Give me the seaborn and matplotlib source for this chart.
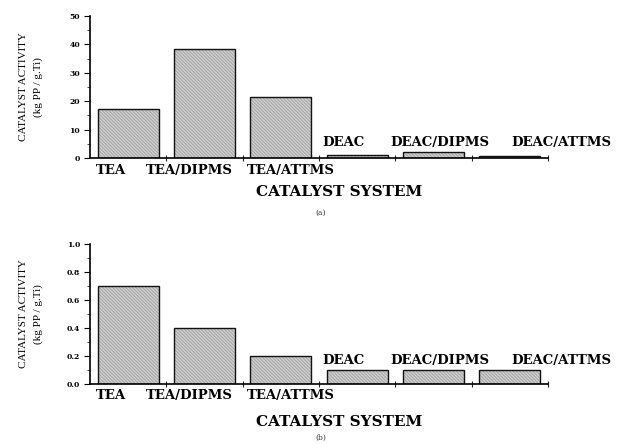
import matplotlib
matplotlib.use("Agg")
import matplotlib.pyplot as plt
import matplotlib.transforms as mtransforms
from matplotlib.colors import to_rgba
from matplotlib.ticker import MultipleLocator, NullFormatter
import seaborn as sns
import pandas as pd

# Catalyst systems and measured activities (kg PP / g.Ti)
catalysts = ["TEA", "TEA/DIPMS", "TEA/ATTMS", "DEAC", "DEAC/DIPMS", "DEAC/ATTMS"]
activity_a = [17.2, 38.5, 21.5, 0.9, 2.2, 0.8]
activity_b = [0.70, 0.40, 0.20, 0.10, 0.10, 0.10]

yticks_a = [0, 10, 20, 30, 40, 50]
yticks_b = [0.0, 0.2, 0.4, 0.6, 0.8, 1.0]
ytick_labels_a = ["0", "10", "20", "30", "40", "50"]
ytick_labels_b = ["0.0", "0.2", "0.4", "0.6", "0.8", "1.0"]

# label anchors (category units) for the hand-placed system names
below_label_x = [-0.22, 0.80, 2.13]
above_label_x = [2.82, 4.09, 5.67]

sns.set_theme(style="white")
plt.rcParams["font.family"] = ["DejaVu Serif"]
plt.rcParams["hatch.linewidth"] = 0.7

FACE = "#acacac"
HATCH = "#d6d6d6"

fig = plt.figure(figsize=(6.18, 4.44), dpi=100)
ax_a = fig.add_axes([0.1456, 0.6441, 0.7411, 0.3198])
ax_b = fig.add_axes([0.1456, 0.1351, 0.7411, 0.3153])


def draw_panel(ax, values, yticks, yticklabels, ymax, minor_step,
               above_y, xlabel_y, tag, tag_y):
    df = pd.DataFrame({"system": catalysts, "activity": values})
    sns.barplot(data=df, x="system", y="activity", ax=ax, color=FACE,
                saturation=1, width=0.8, edgecolor="#111111", linewidth=1.0)
    for p in ax.patches:
        p.set_hatch("\\" * 10)
        if hasattr(p, "set_hatchcolor"):
            p.set_hatchcolor(HATCH)
        else:
            p._hatch_color = to_rgba(HATCH)
        p.set_facecolor(FACE)

    ax.set_xlim(-0.5, 5.5)
    ax.set_ylim(0, ymax)
    for side in ("top", "right"):
        ax.spines[side].set_visible(False)
    for side in ("left", "bottom"):
        ax.spines[side].set_linewidth(1.2)
        ax.spines[side].set_color("black")

    # y axis: bold numeric ticks with one minor tick between majors
    ax.set_yticks(yticks)
    ax.set_yticklabels(yticklabels, fontsize=5.5, fontweight="bold",
                       family="DejaVu Serif")
    ax.yaxis.set_minor_locator(MultipleLocator(minor_step))
    ax.tick_params(axis="y", which="major", direction="out", length=4,
                   width=0.8, pad=3, left=True, colors="black")
    ax.tick_params(axis="y", which="minor", direction="out", length=2,
                   width=0.6, left=True)

    # x axis: ticks at category boundaries, names placed as text
    ax.set_xticks([0.5, 1.5, 2.5, 3.5, 4.5, 5.5])
    ax.xaxis.set_major_formatter(NullFormatter())
    ax.tick_params(axis="x", which="major", direction="inout", length=4,
                   width=0.8, bottom=True)
    ax.set_xlabel("")

    trans = mtransforms.blended_transform_factory(ax.transData, ax.transAxes)
    label_kw = dict(fontsize=9.5, fontweight="bold", family="DejaVu Serif",
                    ha="center", va="center", transform=trans, color="black")
    for x, name in zip(below_label_x, catalysts[:3]):
        ax.text(x, -0.085, name, **label_kw)
    for x, name in zip(above_label_x, catalysts[3:]):
        ax.text(x, above_y, name, clip_on=False, **label_kw)

    ax.set_ylabel("CATALYST ACTIVITY\n(kg PP / g.Ti)",
                  family="Liberation Serif", fontsize=8, linespacing=1.7,
                  color="black")
    ax.yaxis.set_label_coords(-0.103, 0.5)

    ax.text(0.545, xlabel_y, "CATALYST SYSTEM", transform=ax.transAxes,
            fontsize=11, fontweight="bold", family="DejaVu Serif",
            ha="center", va="center", color="black")
    ax.text(0.504, tag_y, tag, transform=ax.transAxes, fontsize=5.5,
            family="DejaVu Serif", ha="center", va="center", color="#333333")


draw_panel(ax_a, activity_a, yticks_a, ytick_labels_a, 50, 5,
           above_y=0.106, xlabel_y=-0.24, tag="(a)", tag_y=-0.387)
draw_panel(ax_b, activity_b, yticks_b, ytick_labels_b, 1.0, 0.1,
           above_y=0.171, xlabel_y=-0.27, tag="(b)", tag_y=-0.386)

fig.savefig("out.png", dpi=100, facecolor="white")
